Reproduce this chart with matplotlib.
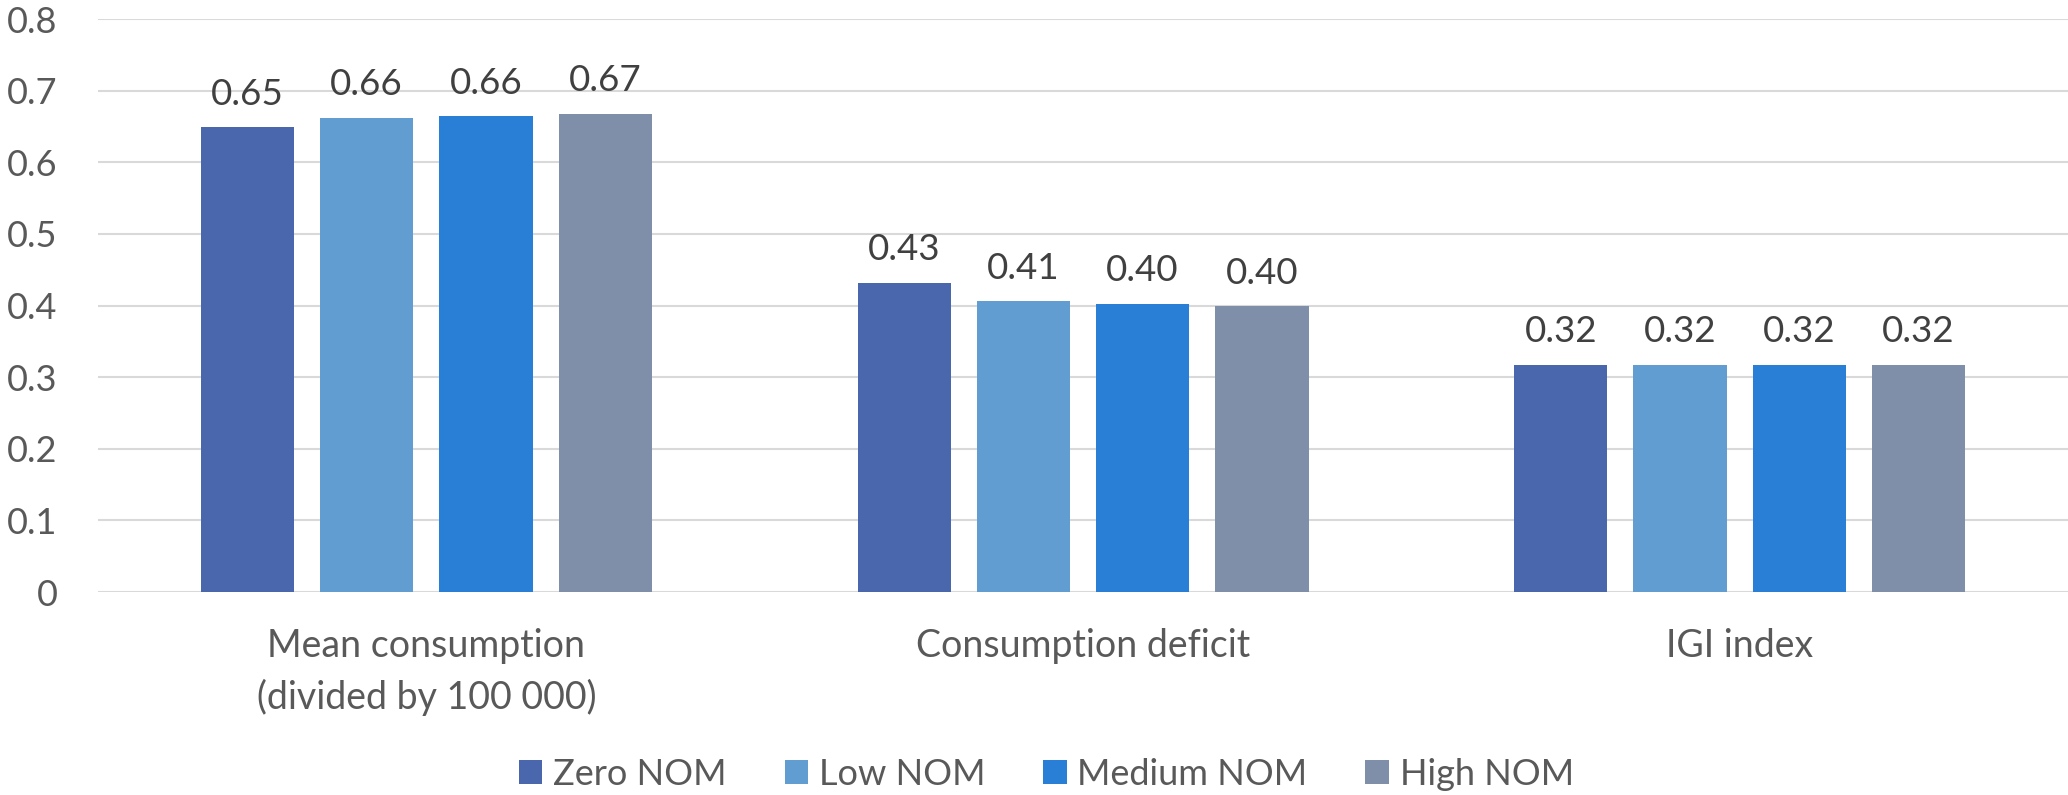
import numpy as np
import matplotlib.pyplot as plt
from matplotlib.ticker import FuncFormatter

# Indicator groups and NOM scenarios
categories = ['Mean consumption\n(divided by 100 000)', 'Consumption deficit', 'IGI index']
scenarios = ['Zero NOM', 'Low NOM', 'Medium NOM', 'High NOM']

zero_nom = [0.649, 0.432, 0.317]
low_nom = [0.662, 0.406, 0.317]
medium_nom = [0.664, 0.402, 0.317]
high_nom = [0.668, 0.399, 0.317]

colors = ['#4A66AC', '#629DD1', '#297FD5', '#7F8FA9']

plt.rcParams['font.family'] = ['Lato', 'DejaVu Sans']

fig = plt.figure(figsize=(20.68, 7.95), dpi=100)
ax = fig.add_axes([0.0474, 0.2553, 0.9526, 0.7207])

x = np.arange(len(categories))
width = 0.142
step = 0.1816

series = [zero_nom, low_nom, medium_nom, high_nom]
for i, (name, vals) in enumerate(zip(scenarios, series)):
    offset = (i - 1.5) * step
    bars = ax.bar(x + offset, vals, width, color=colors[i], label=name, zorder=3)
    ax.bar_label(bars, labels=['%.2f' % v for v in vals], padding=12,
                 fontsize=26.5, color='#404040')

ax.set_xlim(-0.5, len(categories) - 0.5)
ax.set_ylim(0, 0.8)
ax.set_yticks(np.arange(0, 0.81, 0.1))
ax.yaxis.set_major_formatter(FuncFormatter(lambda v, p: '%g' % round(v, 1)))
ax.set_xticks(x)
ax.set_xticklabels(categories, linespacing=1.5, fontsize=27)

ax.grid(axis='y', color='#D9D9D9', linewidth=1.5, zorder=0)
for s in ax.spines.values():
    s.set_visible(False)
ax.tick_params(axis='both', length=0, labelcolor='#595959')
ax.tick_params(axis='y', pad=29, labelsize=26)
ax.tick_params(axis='x', pad=26)

fig.legend(loc='center', bbox_to_anchor=(0.506, 0.026), ncol=4, frameon=False,
           fontsize=26, labelcolor='#595959', handlelength=0.65, handleheight=0.65,
           handletextpad=0.3, columnspacing=1.6)

plt.savefig('out.png', dpi=100)
